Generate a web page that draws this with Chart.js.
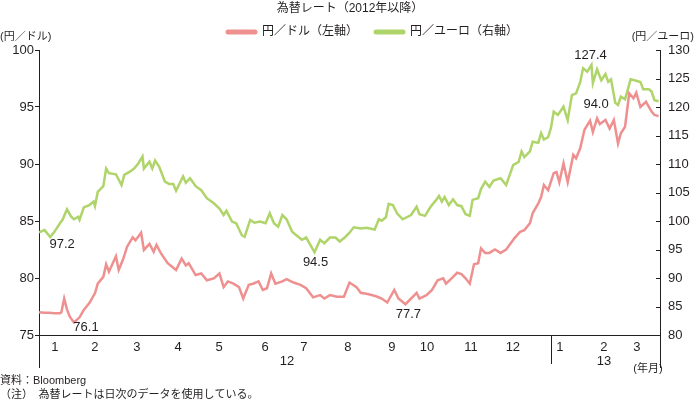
<!DOCTYPE html>
<html><head><meta charset="utf-8">
<script src="https://cdn.jsdelivr.net/npm/chart.js@4.4.0/dist/chart.umd.min.js"></script>
<style>html,body{margin:0;padding:0;background:#fff;}canvas{display:block}</style>
</head><body>
<canvas id="c" width="694" height="401"></canvas>
<script>
// ---- data (days counted from 2012-01-01) ----
const usdDays = [0,4,7,11,15,16,18,20,22,25,29,32,36,40,42,46,48,50,55,57,60,63,67,69,73,75,79,82,84,87,92,98,102,105,107,112,116,120,125,129,132,135,139,143,146,150,153,157,160,163,166,169,174,177,182,187,191,196,201,204,208,213,218,222,227,230,235,241,245,249,254,257,262,265,270,272,277,281,285,289,291,295,299,302,305,308,311,314,316,319,322,326,330,334,337,340,344,347,351,353,357,359,361,364,368,370,372,375,378,382,384,387,390,394,396,399,401,405,408,411,414,416,419,422,425,427,430,434,438,440,443];
const usdValues = [77.0,76.95,76.95,76.9,76.9,77.0,78.2,77.25,76.6,76.1,76.55,77.2,77.8,78.66,79.5,80.1,81.2,80.55,81.9,80.7,81.6,82.75,83.57,83.3,83.97,82.46,83.0,82.3,82.9,82.2,81.3,80.7,81.7,81.1,81.3,80.26,80.4,79.8,79.97,80.4,79.2,79.7,79.5,79.2,78.2,79.4,79.5,79.7,78.95,79.1,80.4,79.5,79.7,79.9,79.6,79.4,79.1,78.3,78.5,78.2,78.5,78.36,78.36,79.6,79.2,78.7,78.6,78.4,78.2,77.85,78.95,78.2,77.7,78.07,78.7,78.2,78.5,78.95,79.8,79.97,79.5,79.97,80.46,80.35,79.97,79.5,81.2,81.3,82.6,82.2,82.2,82.5,82.2,82.5,83.0,83.5,84.06,84.2,84.8,85.7,86.55,87.1,88.16,87.7,89.2,89.3,88.4,90.06,88.4,90.8,90.5,91.4,93.0,93.8,92.8,94.0,93.5,93.86,93.1,93.86,91.8,92.7,93.27,96.2,95.76,96.25,95.0,95.46,94.6,94.3,94.2];
const eurDays = [0,4,8,11,15,17,20,23,25,28,29,32,36,39,40,42,46,48,50,55,59,61,65,68,71,74,75,79,81,83,86,90,93,96,98,103,105,108,112,116,120,125,129,132,134,138,141,145,147,151,154,158,162,165,168,171,174,177,181,184,188,191,194,197,201,204,208,212,215,219,222,225,230,234,240,243,245,248,250,253,256,260,266,270,272,276,280,284,286,288,290,293,296,299,302,305,308,310,314,316,319,322,325,330,334,339,343,345,347,351,353,357,359,361,364,366,368,371,375,378,381,384,387,389,392,395,396,399,402,405,407,409,412,414,416,419,423,427,430,432,436,438,440,443];
const eurValues = [98.0,98.4,97.2,98.1,99.6,100.3,102.05,100.75,100.3,100.75,100.2,102.4,102.8,103.4,102.6,105.1,106.1,109.2,108.4,108.2,106.3,108.1,108.65,109.2,110.1,111.3,109.2,110.4,109.2,110.6,109.5,106.9,106.5,106.5,105.3,107.8,106.7,107.5,106.1,105.4,104.0,103.1,102.2,101.05,101.8,99.9,99.6,97.5,97.2,100.2,99.7,99.9,99.6,101.35,99.6,99.0,101.05,100.3,98.1,97.5,96.7,97.1,95.8,94.5,96.7,96.1,97.1,97.1,96.4,97.2,97.95,98.9,98.7,98.8,98.5,100.3,100.05,100.65,103.0,102.8,101.35,100.3,101.05,102.5,101.2,100.9,102.5,103.7,104.4,103.4,104.2,102.8,103.8,102.8,102.6,101.2,100.9,103.7,104.0,105.6,106.9,106.0,107.1,107.5,106.3,109.8,110.4,112.2,111.2,112.2,113.9,113.7,115.4,114.3,114.7,116.3,119.2,118.6,120.05,117.7,122.1,122.4,124.4,126.8,126.2,127.4,124.2,126.6,124.7,125.8,124.4,124.85,120.75,120.35,121.8,121.35,124.85,124.6,124.4,123.1,123.1,122.7,121.2,121.0];

const monthTickDays = [11.4,40,70,99.4,128.7,161.6,189.4,220.9,252.3,277.4,308.8,338.8,372.4,403.9,427.5];
const monthTickLabels = ['1','2','3','4','5','6','7','8','9','10','11','12','1','2','3'];
const yearLabels = ['12','13'];
const yearLabelDays = [177.3,403.9];
const yearBoundaryDays = [0,366,444];
const seriesNames = ['円／ドル（左軸）','円／ユーロ（右軸）'];
const annotationTexts = ['97.2','76.1','94.5','77.7','127.4','94.0'];
const annotationDays = [8,25,197,262,395,399];
const annotationValues = [97.2,76.1,94.5,77.7,127.4,94.0];
const annotationAxes = ['yR','yL','yR','yL','yR','yL'];

// ---- styling ----
const PINK = '#ef9090';
const GREEN = '#afd46a';
const TXT = '#231f20';
const FONT = '"Liberation Sans", "Noto Sans CJK JP", sans-serif';
const annotationOffsets = [[12,7],[12,5],[1,10],[3,10],[-1,-9],[-1,-14]];

const decor = {
  id: 'decor',
  afterDraw(chart) {
    const ctx = chart.ctx, ca = chart.chartArea;
    const xs = chart.scales.x, yR = chart.scales.yR;
    ctx.save();
    ctx.fillStyle = TXT; ctx.strokeStyle = TXT;
    // title
    ctx.font = '12px ' + FONT; ctx.textAlign = 'center'; ctx.textBaseline = 'middle';
    ctx.fillText('為替レート（2012年以降）', 350, 9);
    // legend
    const leg = [[226, PINK, seriesNames[0]], [374, GREEN, seriesNames[1]]];
    leg.forEach(([x0, col, name]) => {
      ctx.strokeStyle = col; ctx.lineWidth = 5; ctx.lineCap = 'round';
      ctx.beginPath(); ctx.moveTo(x0 + 2, 32); ctx.lineTo(x0 + 29, 32); ctx.stroke();
      ctx.fillStyle = TXT; ctx.textAlign = 'left';
      ctx.fillText(name, x0 + 36, 32);
    });
    // unit labels
    ctx.fillStyle = TXT; ctx.font = '11px ' + FONT;
    ctx.textAlign = 'left'; ctx.fillText('(円／ドル)', 0, 37);
    ctx.textAlign = 'right'; ctx.fillText('(円／ユーロ)', 694, 37);
    // right axis inward ticks
    ctx.strokeStyle = TXT; ctx.lineWidth = 1; ctx.lineCap = 'butt';
    yR.ticks.forEach(t => {
      const y = Math.round(yR.getPixelForValue(t.value)) + 0.5;
      ctx.beginPath(); ctx.moveTo(ca.right - 4, y); ctx.lineTo(ca.right, y); ctx.stroke();
    });
    // year boundary lines under the axis
    yearBoundaryDays.forEach((d, i) => {
      const x = Math.round(xs.getPixelForValue(d)) + 0.5;
      ctx.beginPath(); ctx.moveTo(x, ca.bottom); ctx.lineTo(x, i === 1 ? 364 : 368); ctx.stroke();
    });
    // year labels
    ctx.font = '13px ' + FONT; ctx.textAlign = 'center'; ctx.textBaseline = 'middle';
    yearLabels.forEach((l, i) => ctx.fillText(l, xs.getPixelForValue(yearLabelDays[i]), 361));
    ctx.font = '11px ' + FONT;
    ctx.fillText('(年月)', 648, 369);
    // notes
    ctx.textAlign = 'left';
    ctx.fillText('資料：Bloomberg', 0, 381);
    ctx.fillText('（注）　為替レートは日次のデータを使用している。', 0, 395);
    // annotations
    ctx.font = '13px ' + FONT; ctx.textAlign = 'center';
    annotationTexts.forEach((t, i) => {
      const ys = chart.scales[annotationAxes[i]];
      const px = xs.getPixelForValue(annotationDays[i]) + annotationOffsets[i][0];
      const py = ys.getPixelForValue(annotationValues[i]) + annotationOffsets[i][1];
      ctx.fillText(t, px, py);
    });
    ctx.restore();
  }
};

new Chart(document.getElementById('c'), {
  type: 'line',
  data: {
    datasets: [
      { label: seriesNames[0], data: usdDays.map((d, i) => ({x: d, y: usdValues[i]})), yAxisID: 'yL',
        borderColor: PINK, backgroundColor: PINK, borderWidth: 2.5, pointRadius: 0, tension: 0 },
      { label: seriesNames[1], data: eurDays.map((d, i) => ({x: d, y: eurValues[i]})), yAxisID: 'yR',
        borderColor: GREEN, backgroundColor: GREEN, borderWidth: 2.5, pointRadius: 0, tension: 0 }
    ]
  },
  options: {
    responsive: false, animation: false, devicePixelRatio: 1,
    layout: { padding: { top: 50, left: 0, right: 0, bottom: 0 } },
    plugins: { legend: { display: false }, title: { display: false }, tooltip: { enabled: false } },
    scales: {
      x: {
        type: 'linear', min: 0, max: 444,
        grid: { display: true, drawOnChartArea: false, drawTicks: false },
        border: { display: true, color: TXT, width: 1 },
        ticks: { font: { size: 13, family: FONT }, color: TXT, padding: 5, maxRotation: 0, autoSkip: false,
          callback: (v) => { const i = monthTickDays.indexOf(v); return i >= 0 ? monthTickLabels[i] : ''; } },
        afterBuildTicks: (s) => { s.ticks = monthTickDays.map(v => ({ value: v })); },
        afterFit: (s) => { s.height = 66; }
      },
      yL: {
        position: 'left', min: 75, max: 100,
        grid: { display: true, drawOnChartArea: false, drawTicks: true, tickLength: 4, color: TXT },
        border: { display: true, color: TXT, width: 1 },
        ticks: { stepSize: 5, font: { size: 13, family: FONT }, color: TXT, padding: 1 },
        afterFit: (s) => { s.width = 39; }
      },
      yR: {
        position: 'right', min: 80, max: 130,
        grid: { display: true, drawOnChartArea: false, drawTicks: false },
        border: { display: true, color: TXT, width: 1 },
        ticks: { stepSize: 5, font: { size: 13, family: FONT }, color: TXT, padding: 8 },
        afterFit: (s) => { s.width = 34; }
      }
    }
  },
  plugins: [decor]
});
</script>
</body></html>
